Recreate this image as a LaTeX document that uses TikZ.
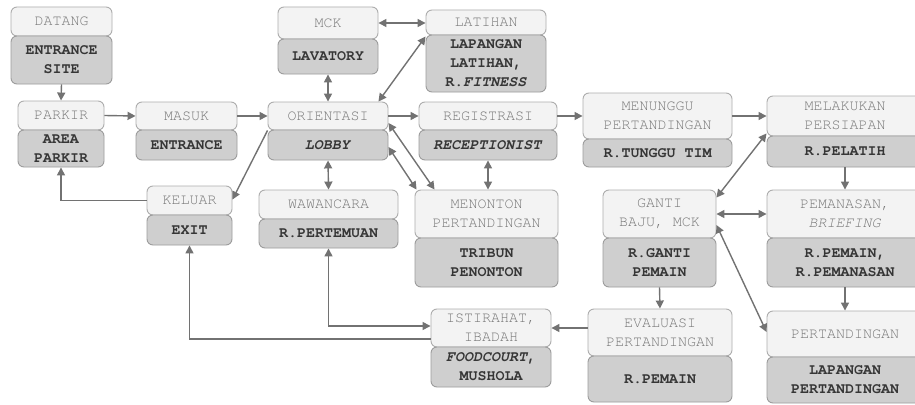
\documentclass[tikz,border=0pt]{standalone}
\usepackage{fontspec}
\usetikzlibrary{arrows.meta,calc}
\newfontfamily\boxmono{TeX Gyre Cursor}
\definecolor{hdrfill}{HTML}{F3F3F3}
\definecolor{hdrline}{HTML}{ADADAD}
\definecolor{hdrtext}{HTML}{777777}
\definecolor{bodyfill}{HTML}{CFCFCF}
\definecolor{bodyline}{HTML}{9C9C9C}
\definecolor{bodytext}{HTML}{363636}
\definecolor{linkgray}{HTML}{727272}
\tikzset{
  hdr/.style={draw=hdrline, fill=hdrfill, line width=0.9pt, rounded corners=6pt,
    text=hdrtext, align=center, inner sep=0pt,
    font=\boxmono\fontsize{15}{19}\selectfont},
  body/.style={draw=bodyline, fill=bodyfill, line width=0.9pt, rounded corners=6pt,
    text=bodytext, align=center, inner sep=0pt,
    font=\boxmono\bfseries\fontsize{15}{19}\selectfont},
  link/.style={draw=linkgray, line width=1.4pt, -{Triangle[length=8pt,width=8pt]}},
  both/.style={draw=linkgray, line width=1.4pt, {Triangle[length=8pt,width=8pt]}-{Triangle[length=8pt,width=8pt]}},
}
\begin{document}
\begin{tikzpicture}[x=1pt,y=-1pt]
\useasboundingbox (0,0) rectangle (915,404);
\fill[white] (0,0) rectangle (915,404);

% activity headers and their rooms
\node[hdr,  minimum width=101pt, minimum height=29pt] (datangH) at (61.5,21.5) {DATANG};
\node[body, minimum width=101pt, minimum height=48pt] (datangB) at (61.5,60) {ENTRANCE\\SITE};

\node[hdr,  minimum width=86pt, minimum height=29pt] (parkirH) at (61,115.5) {PARKIR};
\node[body, minimum width=86pt, minimum height=37pt] (parkirB) at (61,148.5) {AREA\\PARKIR};

\node[hdr,  minimum width=101pt, minimum height=28pt] (masukH) at (186.5,116) {MASUK};
\node[body, minimum width=101pt, minimum height=30pt] (masukB) at (186.5,145) {ENTRANCE};

\node[hdr,  minimum width=100pt, minimum height=32pt] (mckH) at (328,23) {MCK};
\node[body, minimum width=100pt, minimum height=35pt] (mckB) at (328,56.5) {LAVATORY};

\node[hdr,  minimum width=120pt, minimum height=25pt] (latihanH) at (486,22.5) {LATIHAN};
\node[body, minimum width=120pt, minimum height=57pt] (latihanB) at (486,63.5) {LAPANGAN\\LATIHAN,\\R.\textit{FITNESS}};

\node[hdr,  minimum width=120pt, minimum height=28pt] (orientH) at (328,116) {ORIENTASI};
\node[body, minimum width=120pt, minimum height=30pt] (orientB) at (328,145) {\textit{LOBBY}};

\node[hdr,  minimum width=138pt, minimum height=28pt] (registH) at (488,116) {REGISTRASI};
\node[body, minimum width=138pt, minimum height=30pt] (registB) at (488,145) {\textit{RECEPTIONIST}};

\node[hdr,  minimum width=149pt, minimum height=46pt] (tungguH) at (657.5,116) {MENUNGGU\\PERTANDINGAN};
\node[body, minimum width=149pt, minimum height=28pt] (tungguB) at (657.5,153) {R.TUNGGU TIM};

\node[hdr,  minimum width=156pt, minimum height=40pt] (siapH) at (845,116) {MELAKUKAN\\PERSIAPAN};
\node[body, minimum width=156pt, minimum height=31pt] (siapB) at (845,151.5) {R.PELATIH};

\node[hdr,  minimum width=85pt, minimum height=29pt] (keluarH) at (189.5,200.5) {KELUAR};
\node[body, minimum width=85pt, minimum height=30pt] (keluarB) at (189.5,230) {EXIT};

\node[hdr,  minimum width=139pt, minimum height=29pt] (wawanH) at (328.5,204.5) {WAWANCARA};
\node[body, minimum width=139pt, minimum height=29pt] (wawanB) at (328.5,233.5) {R.PERTEMUAN};

\node[hdr,  minimum width=143pt, minimum height=48pt] (tontonH) at (486.5,214) {MENONTON\\PERTANDINGAN};
\node[body, minimum width=143pt, minimum height=49pt] (tontonB) at (486.5,262.5) {TRIBUN\\PENONTON};

\node[hdr,  minimum width=113pt, minimum height=48pt] (gantiH) at (659.5,214) {GANTI\\BAJU, MCK};
\node[body, minimum width=113pt, minimum height=49pt] (gantiB) at (659.5,262.5) {R.GANTI\\PEMAIN};

\node[hdr,  minimum width=156pt, minimum height=48pt] (panasH) at (845,214) {PEMANASAN,\\\textit{BRIEFING}};
\node[body, minimum width=156pt, minimum height=49pt] (panasB) at (845,262.5) {R.PEMAIN,\\R.PEMANASAN};

\node[hdr,  minimum width=120pt, minimum height=38pt] (istH) at (491,328) {ISTIRAHAT,\\IBADAH};
\node[body, minimum width=120pt, minimum height=40pt] (istB) at (491,367) {\textit{FOODCOURT},\\MUSHOLA};

\node[hdr,  minimum width=144pt, minimum height=47pt] (evalH) at (660,332.5) {EVALUASI\\PERTANDINGAN};
\node[body, minimum width=144pt, minimum height=46pt] (evalB) at (660,379) {R.PEMAIN};

\node[hdr,  minimum width=156pt, minimum height=46pt] (tandingH) at (845,334) {PERTANDINGAN};
\node[body, minimum width=156pt, minimum height=46pt] (tandingB) at (845,380) {LAPANGAN\\PERTANDINGAN};

% flow connectors
\draw[link] (datangB.south) -- (parkirH.north);
\draw[link] (parkirH.east) -- (masukH.west);
\draw[link] (masukH.east) -- (orientH.west);
\draw[link] (orientH.east) -- (registH.west);
\draw[link] (registH.east) -- (tungguH.west);
\draw[link] (tungguH.east) -- (siapH.west);
\draw[both] (mckH.east) -- (latihanH.west |- mckH.east);
\draw[both] (mckB.south) -- (orientH.north);
\draw[both] ([xshift=-10pt]orientH.north east) -- ([yshift=-2pt]latihanB.north west);
\draw[both] (orientB.south) -- (wawanH.north);
\draw[both] (registB.south) -- (registB.south |- tontonH.north);
\draw[both] ([yshift=-7pt]orientH.east) -- ([xshift=20pt]tontonH.north west);
\draw[both] ([yshift=-2pt]orientB.east) -- ([xshift=2pt]tontonH.north west);
\draw[link] (orientH.south west) -- ([yshift=-14pt]keluarH.north east);
\draw[link] (keluarH.west) -| (parkirB.south);
\draw[both] (wawanB.south) |- ([yshift=2pt]istH.west);
\draw[link] ([yshift=-11pt]istH.west) -| (keluarB.south);
\draw[link] (evalH.west |- istH.east) -- (istH.east);
\draw[link] (gantiB.south) -- (evalH.north);
\draw[link] (siapB.south) -- (panasH.north);
\draw[link] (panasB.south) -- (tandingH.north);
\draw[both] ([yshift=3pt]siapH.south west) -- ([yshift=-8pt]gantiH.north east);
\draw[both] (gantiH.east) -- (panasH.west);
\draw[both] ([yshift=-11pt]gantiH.east) -- ([yshift=2pt]tandingH.west);
\end{tikzpicture}
\end{document}
